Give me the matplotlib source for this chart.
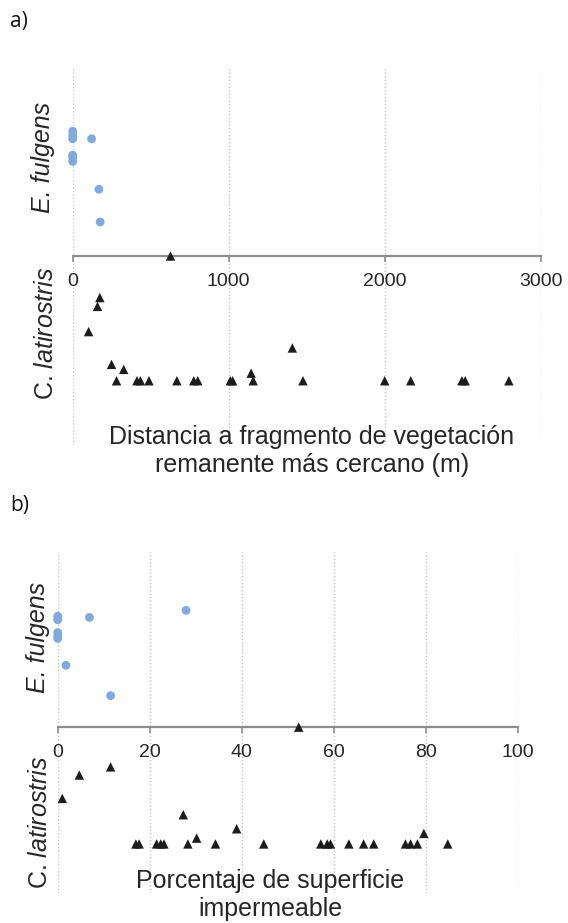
import matplotlib
matplotlib.use("Agg")
import matplotlib.pyplot as plt

W, H = 568, 923

# a) distance to nearest remnant vegetation patch (m)
fulgens_dist_x = [0, 0, 0, 121, 0, 0, 0, 168, 176]
fulgens_dist_y = [0.99, 0.96, 0.93, 0.93, 0.80, 0.78, 0.75, 0.53, 0.27]
latir_dist_x = [627, 174, 159, 102, 249, 327, 1144, 1408,
                281, 412, 434, 489, 668, 776, 802, 1010, 1025, 1157, 1476, 2000, 2167, 2495, 2516, 2796]
latir_dist_y = [0, -0.33, -0.40, -0.60, -0.86, -0.90, -0.93, -0.73] + [-0.99] * 16
dist_ticks = [0, 1000, 2000, 3000]

# b) impermeable surface (%)
fulgens_imp_x = [27.9, 0, 6.9, 0, 0, 0, 0, 1.8, 11.5]
fulgens_imp_y = [1.00, 0.95, 0.94, 0.92, 0.81, 0.78, 0.76, 0.53, 0.27]
latir_imp_x = [52.4, 11.5, 4.7, 1.0, 38.9, 79.6, 30.2, 27.3,
               17.0, 17.7, 21.5, 22.4, 23.1, 28.3, 34.3, 44.8, 57.2, 58.6, 59.3, 63.3, 66.5, 68.7, 75.6, 76.7, 78.2, 84.8]
latir_imp_y = [0, -0.34, -0.41, -0.61, -0.87, -0.91, -0.95, -0.75] + [-1.0] * 18
imp_ticks = [0, 20, 40, 60, 80, 100]

BLUE = "#7eaadc"
DARK = "#1c1c1c"
AXIS_GREY = "#8c8c8c"
TEXT = "#262626"
plt.rcParams["font.family"] = ["Liberation Sans", "DejaVu Sans"]
plt.rcParams["mathtext.fontset"] = "custom"
plt.rcParams["mathtext.rm"] = "Liberation Sans"
plt.rcParams["mathtext.it"] = "Liberation Sans:italic"

fig = plt.figure(figsize=(W / 100, H / 100), dpi=100)


def px_axes(left, right, top, bottom):
    return fig.add_axes([left / W, 1 - bottom / H, (right - left) / W, (bottom - top) / H])


def fx(x):
    return x / W


def fy(y):
    return 1 - y / H


def draw_panel(ax, fx_, fy_, lx, ly, ticks, ylim):
    ax.set_xlim(ticks[0], ticks[-1])
    ax.set_ylim(*ylim)
    ax.set_xticks(ticks)
    ax.set_yticks([])
    for side in ["top", "right", "left"]:
        ax.spines[side].set_visible(False)
    ax.spines["bottom"].set_position(("data", 0))
    ax.spines["bottom"].set_color(AXIS_GREY)
    ax.spines["bottom"].set_linewidth(1.6)
    ax.tick_params(axis="x", direction="out", length=4, width=1.2, color=AXIS_GREY,
                   labelsize=14, labelcolor=TEXT, pad=8)
    ax.grid(axis="x", linestyle=(0, (1, 1.5)), color="#c4c4c4", linewidth=1.0)
    ax.set_axisbelow(True)
    ax.scatter(fx_, fy_, s=40, marker="o", color=BLUE, edgecolors="none", zorder=3, clip_on=False)
    ax.scatter(lx, ly, s=46, marker="^", color=DARK, edgecolors="none", zorder=4, clip_on=False)
    ax.patch.set_visible(False)


ax_a = px_axes(72.7, 540.7, 67, 445)
draw_panel(ax_a, fulgens_dist_x, fulgens_dist_y, latir_dist_x, latir_dist_y, dist_ticks, (-1.5, 1.5))

ax_b = px_axes(57.7, 517.7, 552, 893)
draw_panel(ax_b, fulgens_imp_x, fulgens_imp_y, latir_imp_x, latir_imp_y, imp_ticks, (-1.42, 1.5))

# species names along the left edge: E. fulgens above the axis, C. latirostris below
for x, y in [(43, 157), (38, 637)]:
    fig.text(fx(x), fy(y), "E. fulgens", rotation=90, ha="center", va="center",
             fontsize=18, color=TEXT, style="italic")
for x, y in [(46, 333), (40, 822)]:
    fig.text(fx(x), fy(y), r"C. $\mathit{latirostris}$", rotation=90, ha="center", va="center",
             fontsize=18, color=TEXT)

fig.text(fx(312), fy(451), "Distancia a fragmento de vegetación\nremanente más cercano (m)",
         ha="center", va="center", fontsize=18, color=TEXT, linespacing=1.2)
fig.text(fx(270), fy(895), "Porcentaje de superficie\nimpermeable",
         ha="center", va="center", fontsize=18, color=TEXT, linespacing=1.2)

fig.text(fx(10), fy(22), "a)", ha="left", va="center", fontsize=15, color="#111111", family="Open Sans")
fig.text(fx(10), fy(505), "b)", ha="left", va="center", fontsize=15, color="#111111", family="Open Sans")

fig.savefig("out.png", dpi=100)
